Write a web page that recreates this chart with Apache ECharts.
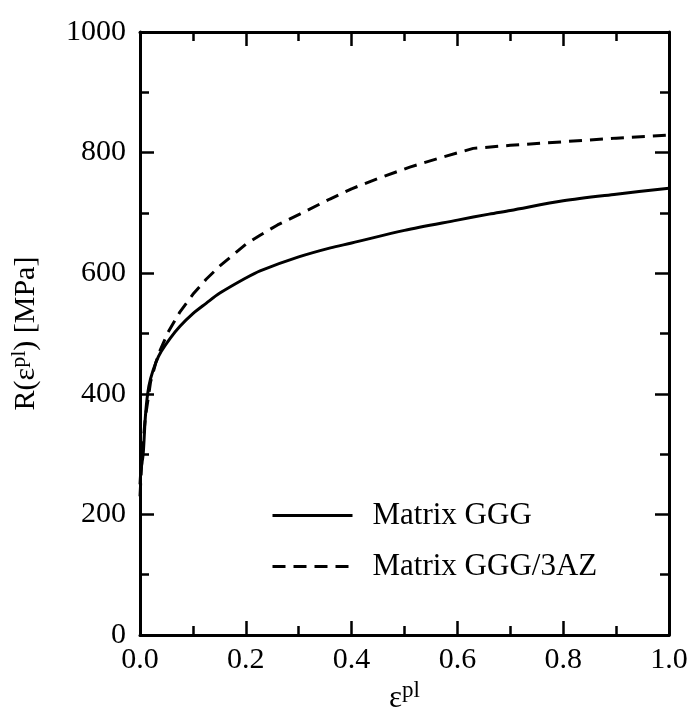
<!DOCTYPE html>
<html>
<head>
<meta charset="utf-8">
<script src="https://cdn.jsdelivr.net/npm/echarts@6/dist/echarts.min.js"></script>
<style>
html,body{margin:0;padding:0;background:#fff;}
#chart{width:693px;height:715px;}
</style>
</head>
<body>
<div id="chart"></div>
<script>
var seriesNames = ['Matrix GGG', 'Matrix GGG/3AZ'];
var strainGGG = [0, 0.002, 0.006, 0.01, 0.0145, 0.02, 0.03, 0.04, 0.057, 0.0756, 0.1, 0.125, 0.151, 0.2, 0.227, 0.3, 0.36, 0.4, 0.5, 0.6, 0.66, 0.7, 0.8, 0.9, 1.0];
var stressGGG = [250, 275, 300, 360, 400, 425, 452, 470, 492, 512, 533, 550, 567, 592, 604, 627, 642, 650, 671, 688, 698, 704, 720, 731, 741];
var strain3AZ = [0, 0.004, 0.01, 0.02, 0.03, 0.038, 0.053, 0.0756, 0.1, 0.125, 0.151, 0.2, 0.227, 0.26, 0.302, 0.359, 0.4, 0.45, 0.51, 0.57, 0.63, 0.7, 0.8, 0.9, 1.0];
var stress3AZ = [230, 300, 360, 420, 452, 472, 502, 536, 565, 590, 612, 648, 663, 680, 698, 723, 740, 757, 776, 792, 807, 812, 818, 824, 829];
var xTicks = {min: 0, max: 1, interval: 0.2};
var yTicks = {min: 0, max: 1000, interval: 200};

function pairs(xs, ys) { return xs.map(function (x, i) { return [x, ys[i]]; }); }

var font = 'Liberation Serif, Times New Roman, serif';
var axisLine = {show: true, onZero: false, lineStyle: {color: '#000', width: 3}};
var tick = {show: true, inside: true, length: 14, lineStyle: {color: '#000', width: 2.5}};
var minor = {show: true, splitNumber: 2, length: 9, lineStyle: {color: '#000', width: 2.5}};

var chart = echarts.init(document.getElementById('chart'));
chart.setOption({
  backgroundColor: '#fff',
  animation: false,
  grid: {left: 140, right: 24, top: 32, bottom: 80, containLabel: false, outerBoundsMode: 'none'},
  legend: {
    orient: 'vertical', left: 266, top: 495,
    itemWidth: 80, itemHeight: 30, itemGap: 20,
    data: seriesNames,
    itemStyle: {opacity: 0},
    lineStyle: {width: 3},
    textStyle: {fontFamily: font, fontSize: 31, color: '#000', padding: [0, 0, 0, 15]}
  },
  xAxis: [{
    type: 'value', min: xTicks.min, max: xTicks.max, interval: xTicks.interval,
    axisLine: axisLine, axisTick: tick, minorTick: minor, splitLine: {show: false},
    axisLabel: {fontFamily: font, fontSize: 30, color: '#000', margin: 10, formatter: function (v) { return v.toFixed(1); }},
    name: '{e|ε}{s|pl}', nameLocation: 'middle', nameGap: 44,
    nameTextStyle: {rich: {e: {fontFamily: font, fontSize: 31, color: '#000'}, s: {fontFamily: font, fontSize: 23, color: '#000', padding: [0, 0, 14, 0]}}}
  }, {
    type: 'value', position: 'top', min: xTicks.min, max: xTicks.max, interval: xTicks.interval,
    axisLine: axisLine, axisTick: tick, minorTick: minor, splitLine: {show: false}, axisLabel: {show: false}
  }],
  yAxis: [{
    type: 'value', min: yTicks.min, max: yTicks.max, interval: yTicks.interval,
    axisLine: axisLine, axisTick: tick, minorTick: minor, splitLine: {show: false},
    axisLabel: {fontFamily: font, fontSize: 30, color: '#000', margin: 14, formatter: function (v) { return String(v); }},
    name: '{t|R(ε}{s|pl}{t|) [MPa]}', nameLocation: 'middle', nameGap: 96,
    nameTextStyle: {rich: {t: {fontFamily: font, fontSize: 30, color: '#000'}, s: {fontFamily: font, fontSize: 22, color: '#000', padding: [0, 0, 14, 0]}}}
  }, {
    type: 'value', position: 'right', min: yTicks.min, max: yTicks.max, interval: yTicks.interval,
    axisLine: axisLine, axisTick: tick, minorTick: minor, splitLine: {show: false}, axisLabel: {show: false}
  }],
  series: [{
    name: seriesNames[0], type: 'line', symbol: 'none', smooth: 0.3,
    lineStyle: {color: '#000', width: 3, type: 'solid'}, itemStyle: {color: '#000'},
    data: pairs(strainGGG, stressGGG)
  }, {
    name: seriesNames[1], type: 'line', symbol: 'none', smooth: false,
    lineStyle: {color: '#000', width: 3, type: [13, 8]}, itemStyle: {color: '#000'},
    data: pairs(strain3AZ, stress3AZ)
  }]
});
</script>
</body>
</html>
